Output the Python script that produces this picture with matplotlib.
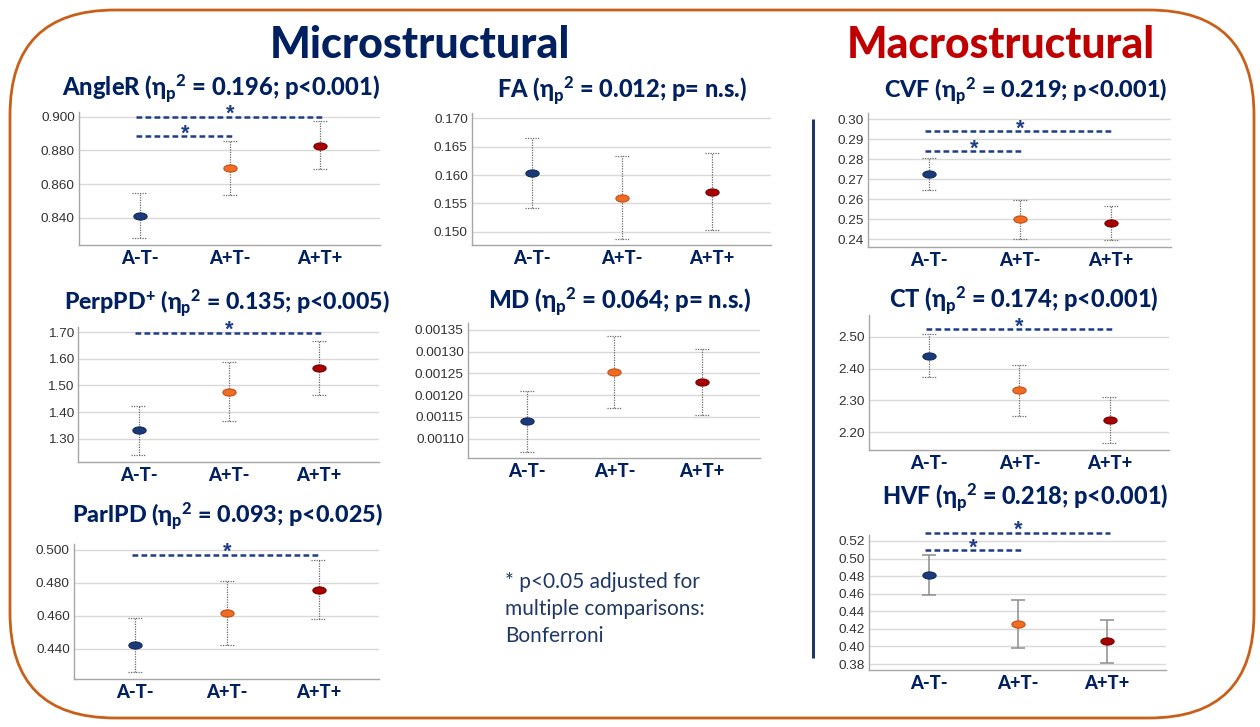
import numpy as np
import matplotlib
matplotlib.use('Agg')
import matplotlib.pyplot as plt
from matplotlib.path import Path
from matplotlib.markers import MarkerStyle
from matplotlib.patches import FancyBboxPatch

W, H = 1260, 727
NAVY = '#002060'
RED = '#C00000'
ORANGE_BORDER = '#C8601A'

plt.rcParams['mathtext.fontset'] = 'custom'
plt.rcParams['mathtext.rm'] = 'Lato:black'
plt.rcParams['mathtext.it'] = 'Lato:black'
plt.rcParams['mathtext.bf'] = 'Lato:black'
plt.rcParams['mathtext.sf'] = 'Lato:black'
plt.rcParams['mathtext.fallback'] = 'stixsans'

# ---------------- data ----------------
groups = ['A-T-', 'A+T-', 'A+T+']
group_colors = ['#1B3A7A', '#F26B22', '#A80000']
group_edges = ['#0E2250', '#B54A10', '#6A0000']

angler_mean = [0.8410, 0.8694, 0.8828]
angler_lo = [0.8278, 0.8533, 0.8688]
angler_hi = [0.8545, 0.8856, 0.8976]
angler_ticks = [0.840, 0.860, 0.880, 0.900]

fa_mean = [0.16035, 0.1560, 0.1571]
fa_lo = [0.1542, 0.1487, 0.1504]
fa_hi = [0.1665, 0.1633, 0.1638]
fa_ticks = [0.150, 0.155, 0.160, 0.165, 0.170]

cvf_mean = [0.2727, 0.2500, 0.2480]
cvf_lo = [0.2648, 0.2403, 0.2395]
cvf_hi = [0.2806, 0.2595, 0.2568]
cvf_ticks = [0.24, 0.25, 0.26, 0.27, 0.28, 0.29, 0.30]

perp_mean = [1.331, 1.4748, 1.566]
perp_lo = [1.240, 1.366, 1.4653]
perp_hi = [1.4238, 1.586, 1.666]
perp_ticks = [1.30, 1.40, 1.50, 1.60, 1.70]

md_mean = [0.0011397, 0.0012530, 0.0012300]
md_lo = [0.0010702, 0.0011703, 0.0011548]
md_hi = [0.0012085, 0.0013346, 0.0013048]
md_ticks = [0.00110, 0.00115, 0.00120, 0.00125, 0.00130, 0.00135]

ct_mean = [2.4395, 2.3317, 2.2388]
ct_lo = [2.373, 2.2511, 2.1655]
ct_hi = [2.5075, 2.4122, 2.3118]
ct_ticks = [2.20, 2.30, 2.40, 2.50]

parl_mean = [0.4422, 0.4616, 0.4760]
parl_lo = [0.4258, 0.4424, 0.4582]
parl_hi = [0.4590, 0.4812, 0.4937]
parl_ticks = [0.440, 0.460, 0.480, 0.500]

hvf_mean = [0.4810, 0.4255, 0.4058]
hvf_lo = [0.4582, 0.3986, 0.3808]
hvf_hi = [0.5037, 0.4528, 0.4305]
hvf_ticks = [0.38, 0.40, 0.42, 0.44, 0.46, 0.48, 0.50, 0.52]

# significance brackets: (group i, group j, y level)
angler_sig = [(0, 2, 0.9000), (0, 1, 0.8885)]
perp_sig = [(0, 2, 1.698)]
parl_sig = [(0, 2, 0.4972)]
cvf_sig = [(0, 2, 0.2942), (0, 1, 0.2840)]
ct_sig = [(0, 2, 2.523)]
hvf_sig = [(0, 2, 0.5294), (0, 1, 0.5098)]

titles = {
    'AngleR': 'AngleR ($\\eta_{p}{}^{2}$ = 0.196; p<0.001)',
    'FA': 'FA ($\\eta_{p}{}^{2}$ = 0.012; p= n.s.)',
    'CVF': 'CVF ($\\eta_{p}{}^{2}$ = 0.219; p<0.001)',
    'PerpPD': 'PerpPD$^{+}$ ($\\eta_{p}{}^{2}$ = 0.135; p<0.005)',
    'MD': 'MD ($\\eta_{p}{}^{2}$ = 0.064; p= n.s.)',
    'CT': 'CT ($\\eta_{p}{}^{2}$ = 0.174; p<0.001)',
    'ParlPD': 'ParlPD ($\\eta_{p}{}^{2}$ = 0.093; p<0.025)',
    'HVF': 'HVF ($\\eta_{p}{}^{2}$ = 0.218; p<0.001)',
}
footnote_lines = ['* p<0.05 adjusted for', 'multiple comparisons:', 'Bonferroni']

# ---------------- layout (pixel boxes) ----------------
panels = [
    ('AngleR', angler_mean, angler_lo, angler_hi, angler_ticks, '%.3f', angler_sig,
     (79, 112, 380, 245), (0.8238, 0.9028), (221, 96, 318), False),
    ('FA', fa_mean, fa_lo, fa_hi, fa_ticks, '%.3f', [],
     (472, 113, 771, 245), (0.1477, 0.1709), (622, 98, 249), False),
    ('CVF', cvf_mean, cvf_lo, cvf_hi, cvf_ticks, '%.2f', cvf_sig,
     (868, 113, 1171, 247), (0.2362, 0.3032), (1026, 98, 283), False),
    ('PerpPD', perp_mean, perp_lo, perp_hi, perp_ticks, '%.2f', perp_sig,
     (78, 327, 379, 462), (1.2125, 1.719), (227, 310, 325), False),
    ('MD', md_mean, md_lo, md_hi, md_ticks, '%.5f', [],
     (468, 323, 760, 458), (0.0010557, 0.0013654), (620, 309, 263), False),
    ('CT', ct_mean, ct_lo, ct_hi, ct_ticks, '%.2f', ct_sig,
     (869, 315, 1169, 450), (2.1446, 2.568), (1024, 308, 269), False),
    ('ParlPD', parl_mean, parl_lo, parl_hi, parl_ticks, '%.3f', parl_sig,
     (74, 544, 379, 679), (0.4218, 0.5036), (227, 523, 310), False),
    ('HVF', hvf_mean, hvf_lo, hvf_hi, hvf_ticks, '%.2f', hvf_sig,
     (869, 535, 1166, 670), (0.3732, 0.5268), (1025, 505, 286), True),
]

fig = plt.figure(figsize=(W / 100, H / 100), dpi=100)
bg = fig.add_axes([0, 0, 1, 1])
bg.set_xlim(0, W)
bg.set_ylim(H, 0)
bg.axis('off')

renderer = fig.canvas.get_renderer()


def fit_width(t, target):
    w = t.get_window_extent(renderer).width
    t.set_fontsize(t.get_fontsize() * target / w)


frame = FancyBboxPatch((10, 10), W - 16, H - 19,
                       boxstyle='round,pad=0,rounding_size=105',
                       fill=False, ec=ORANGE_BORDER, lw=2.0)
bg.add_patch(frame)

bg.plot([813, 813], [119, 658], color='#1F3864', lw=2.2, solid_capstyle='butt')

t = bg.text(420, 58, 'Microstructural', ha='center', va='baseline',
            fontfamily='Lato', fontweight='black', color=NAVY, fontsize=30)
fit_width(t, 300)
t = bg.text(1001, 58, 'Macrostructural', ha='center', va='baseline',
            fontfamily='Lato', fontweight='black', color=RED, fontsize=30)
fit_width(t, 308)

for k, (line, yb) in enumerate(zip(footnote_lines, [588, 615, 642])):
    t = bg.text(505, yb, line, ha='left', va='baseline', fontfamily='Lato',
                color='#1F3864', fontsize=13.5)
    if k == 0:
        fit_width(t, 195)
        fs_foot = t.get_fontsize()
    else:
        t.set_fontsize(fs_foot)

theta = np.linspace(0, 2 * np.pi, 80)
ell = Path(np.column_stack([1.85 * np.cos(theta), np.sin(theta)]), closed=True)
ell_marker = MarkerStyle(ell)

x = np.arange(len(groups))
cap = 0.08

for (key, mean, lo, hi, ticks, fmt, sig, box, ylim, tpos, solid) in panels:
    l, tp, r, b = box
    ax = fig.add_axes([l / W, 1 - b / H, (r - l) / W, (b - tp) / H])
    ax.set_xlim(-0.67, 2.66)
    ax.set_ylim(*ylim)
    for s in ['top', 'right']:
        ax.spines[s].set_visible(False)
    for s in ['left', 'bottom']:
        ax.spines[s].set_color('#a6a6a6')
        ax.spines[s].set_linewidth(1.0)
    ax.set_yticks(ticks)
    ax.set_yticklabels([fmt % v for v in ticks], fontfamily='Liberation Sans')
    ax.tick_params(axis='y', length=0, pad=3, labelsize=9.7, labelcolor='#333333')
    ax.set_xticks(x)
    ax.set_xticklabels(groups, fontfamily='Lato', fontweight='black', color=NAVY,
                       fontsize=13.2)
    ax.tick_params(axis='x', length=0, pad=3.5)
    ax.yaxis.grid(True, color='#d9d9d9', lw=1.0)
    ax.set_axisbelow(True)

    if solid:
        ecol, ls, elw = '#8c8c8c', '-', 1.1
    else:
        ecol, ls, elw = '#6b6b6b', (0, (1, 1)), 0.9
    ax.vlines(x, lo, hi, colors=ecol, linestyles=ls, lw=elw, zorder=2)
    ax.hlines(lo, x - cap, x + cap, colors=ecol, linestyles=ls, lw=elw, zorder=2)
    ax.hlines(hi, x - cap, x + cap, colors=ecol, linestyles=ls, lw=elw, zorder=2)
    for i in range(len(groups)):
        ax.plot(x[i], mean[i], marker=ell_marker, markersize=9.6, linestyle='none',
                mfc=group_colors[i], mec=group_edges[i], mew=0.7, zorder=3)

    for (i, j, lev) in sig:
        ax.plot([x[i] - 0.04, x[j] + 0.03], [lev, lev], color='#1F3C88', lw=1.8,
                dashes=(2.3, 1.3), clip_on=False, zorder=4)
        ax.annotate('*', xy=((x[i] + x[j]) / 2, lev), xytext=(0, -2.4),
                    textcoords='offset points', ha='center', va='baseline',
                    fontfamily='Liberation Sans', fontweight='bold', fontsize=15.5,
                    color='#1F3C88', annotation_clip=False)

    cx, base, tw = tpos
    t = bg.text(cx, base, titles[key], ha='center', va='baseline',
                fontfamily='Lato', fontweight='black', color=NAVY, fontsize=16.5)
    fit_width(t, tw)

fig.savefig('out.png', dpi=100)
